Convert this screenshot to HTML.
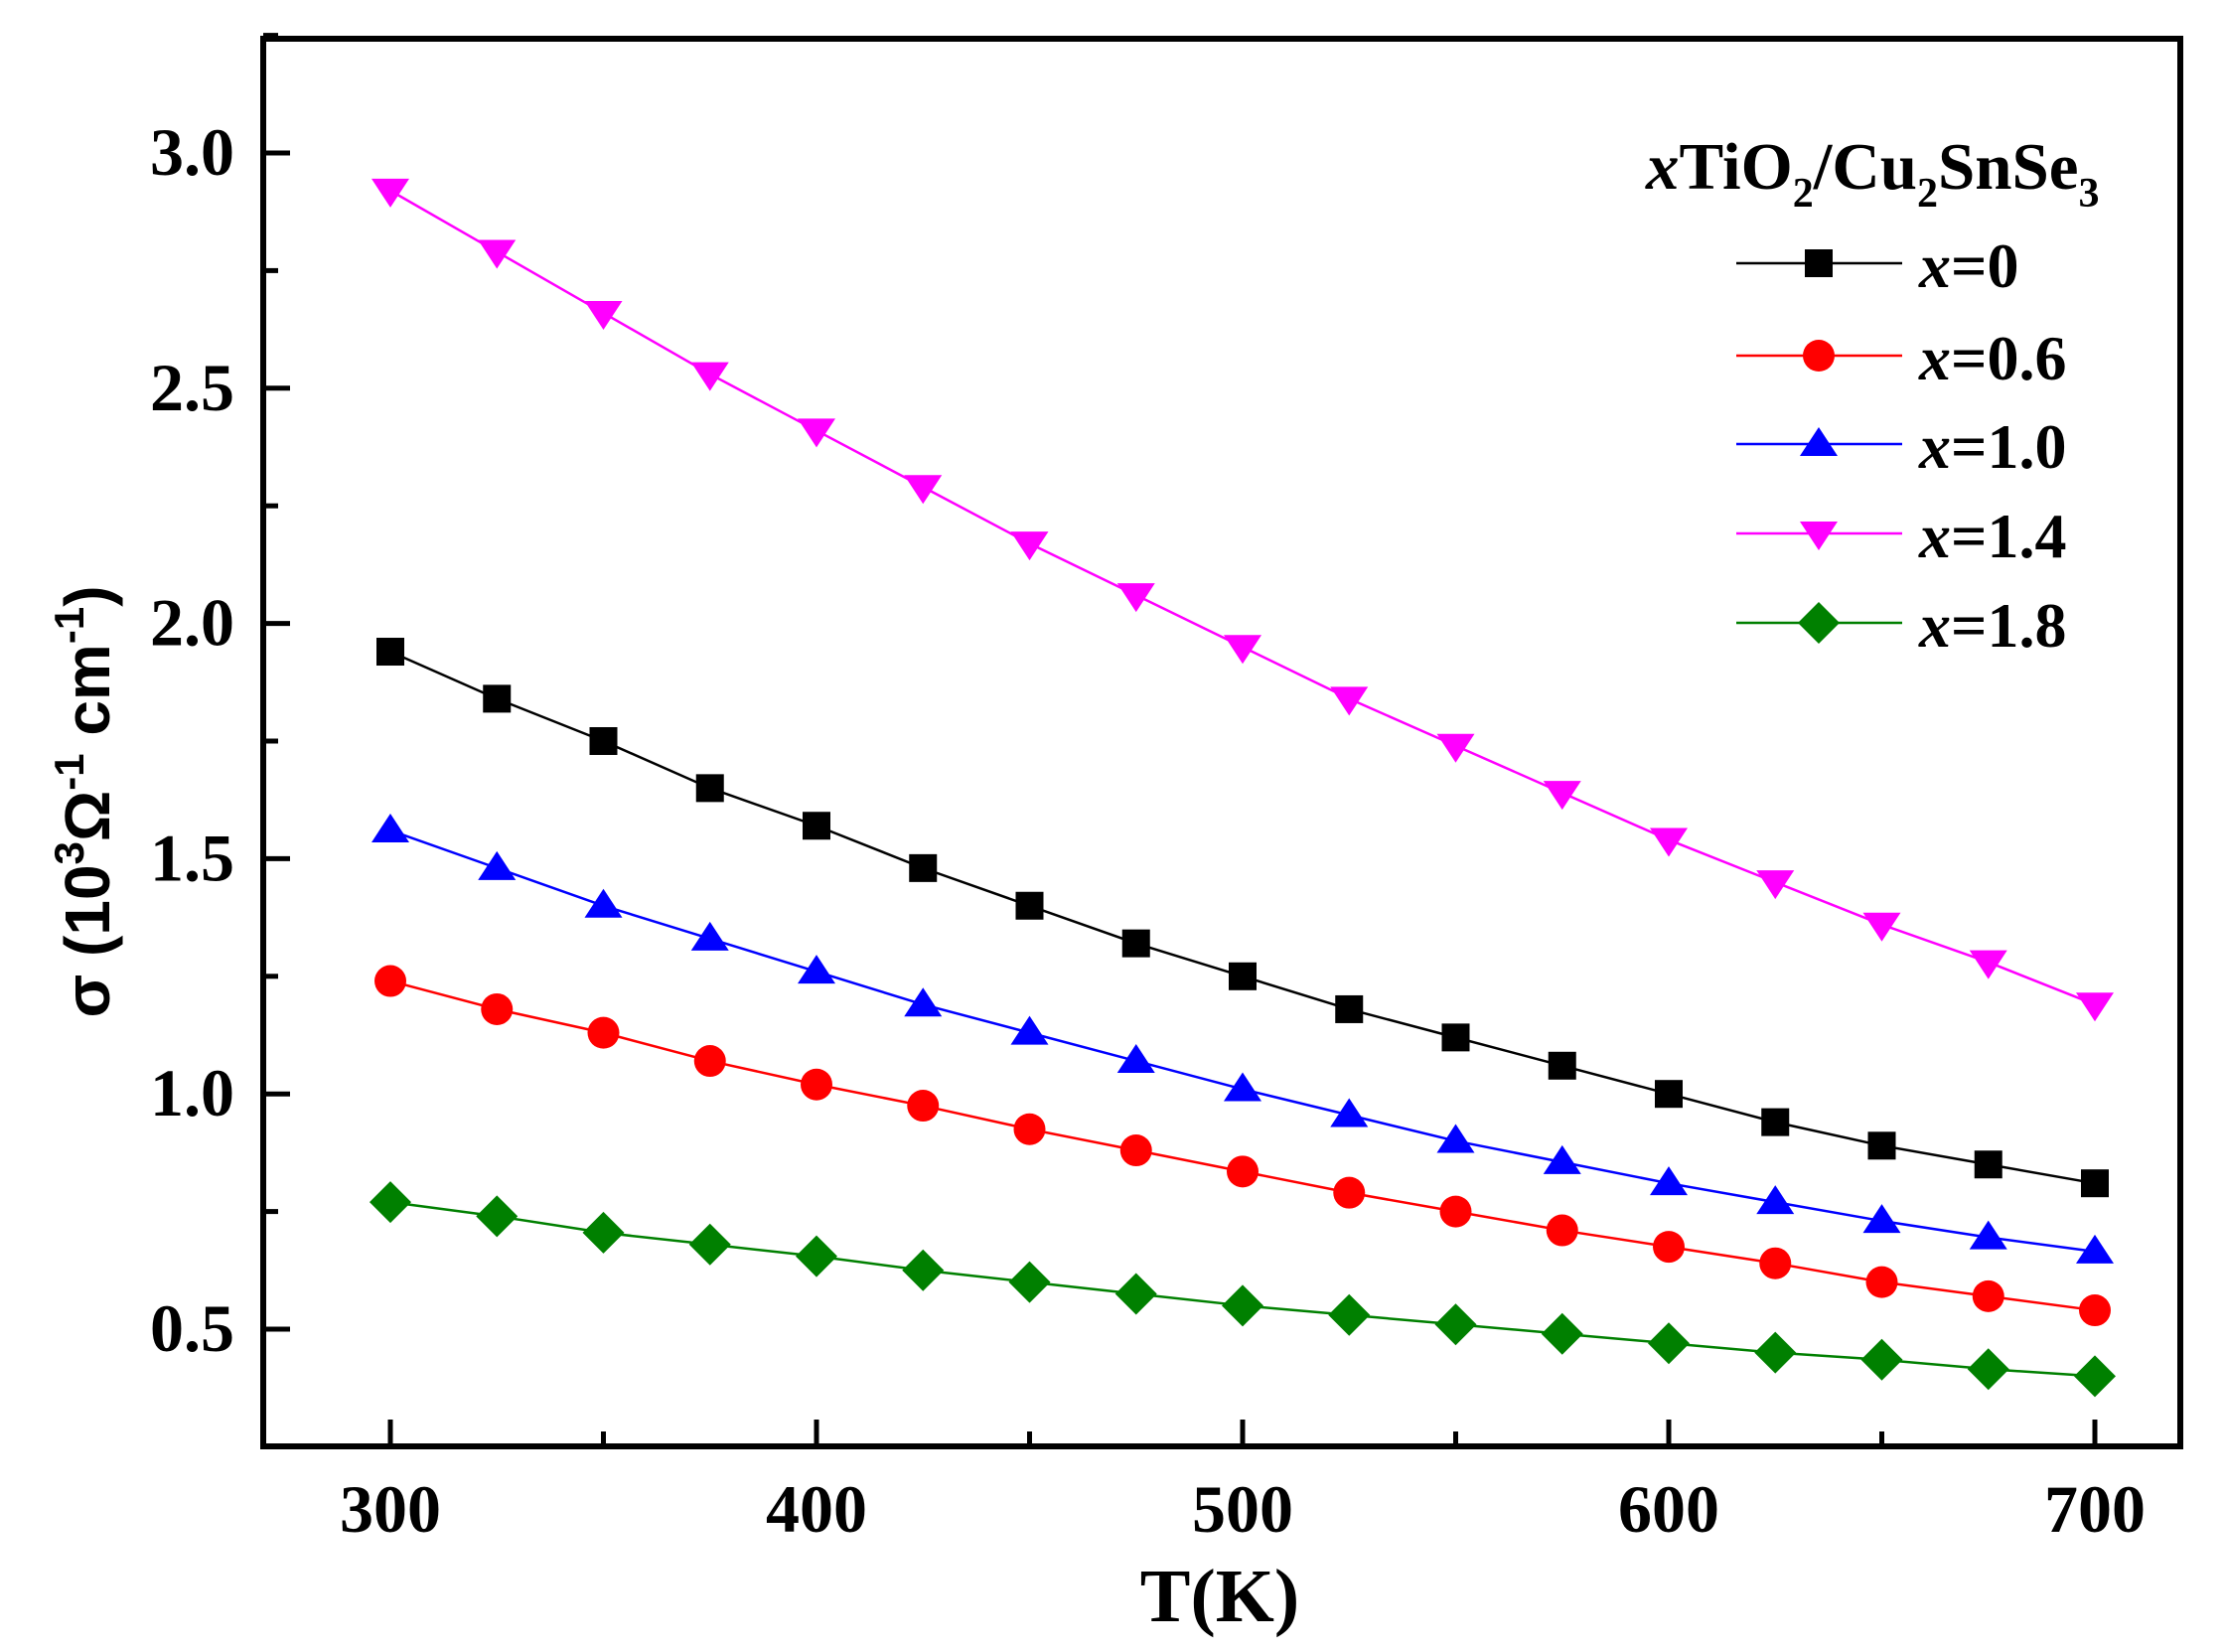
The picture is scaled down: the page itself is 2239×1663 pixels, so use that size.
<!DOCTYPE html>
<html><head><meta charset="utf-8"><style>
html,body{margin:0;padding:0;background:#fff;}
svg{display:block;}
text{font-family:"Liberation Serif",serif;font-weight:bold;}
</style></head><body>
<svg id="s" width="2239" height="1663" viewBox="0 0 2239 1663" xmlns="http://www.w3.org/2000/svg">
<rect width="2239" height="1663" fill="#fff"/>
<g id="plot"></g>
<rect x="265" y="39" width="1930" height="1417" fill="none" stroke="#000" stroke-width="6"/>
<g id="ticks" stroke="#000" stroke-width="5"></g>
<g font-size="68" text-anchor="middle" id="xl"></g>
<g font-size="68" text-anchor="end" id="yl"></g>
<text x="1228" y="1632" font-size="76" text-anchor="middle">T(K)</text>
<text transform="translate(110,807) rotate(-90)" font-size="64" text-anchor="middle" style="font-family:'Liberation Sans',sans-serif;font-weight:bold">σ (10<tspan dy="-26" font-size="42">3</tspan><tspan dy="26">Ω</tspan><tspan dy="-26" font-size="42">-1</tspan><tspan dy="26"> cm</tspan><tspan dy="-26" font-size="42">-1</tspan><tspan dy="26">)</tspan></text>
<text x="1657" y="190" font-size="67"><tspan font-style="italic">x</tspan>TiO<tspan font-size="42" dy="18">2</tspan><tspan dy="-18">/Cu</tspan><tspan font-size="42" dy="18">2</tspan><tspan dy="-18">SnSe</tspan><tspan font-size="42" dy="18">3</tspan></text>
<g id="leg"></g>
</svg>
<script>
const NS="http://www.w3.org/2000/svg";
function el(p,t,a,txt){const e=document.createElementNS(NS,t);for(const k in a)e.setAttribute(k,a[k]);if(txt!==undefined)e.textContent=txt;document.getElementById(p).appendChild(e);return e;}
const X=v=>393+(v-300)*4.29, Y=v=>1338-(v-0.5)*473.6;
for(let v=300;v<=700;v+=50){const maj=v%100==0;el('ticks','line',{x1:X(v),x2:X(v),y1:1456,y2:1456-(maj?27:15)});}
for(let v=0.5;v<=3.26;v+=0.25){const maj=Math.abs(v*2-Math.round(v*2))<1e-6;el('ticks','line',{x1:265,x2:265+(maj?27:15),y1:Y(v),y2:Y(v)});}
for(let v=300;v<=700;v+=100)el('xl','text',{x:X(v),y:1542},v);
for(const v of [0.5,1,1.5,2,2.5,3])el('yl','text',{x:236,y:Y(v)+22},v.toFixed(1));
const S=[
 ['#000','sq',[1.94,1.84,1.75,1.65,1.57,1.48,1.40,1.32,1.25,1.18,1.12,1.06,1.00,0.94,0.89,0.85,0.81]],
 ['#ff0000','ci',[1.24,1.18,1.13,1.07,1.02,0.975,0.925,0.88,0.835,0.79,0.75,0.71,0.675,0.64,0.60,0.57,0.54]],
 ['#0000ff','up',[1.56,1.48,1.40,1.33,1.26,1.19,1.13,1.07,1.01,0.955,0.90,0.855,0.81,0.77,0.73,0.695,0.665]],
 ['#ff00ff','dn',[2.92,2.79,2.66,2.53,2.41,2.29,2.17,2.06,1.95,1.84,1.74,1.64,1.54,1.45,1.36,1.28,1.19]],
 ['#008000','di',[0.77,0.74,0.705,0.68,0.655,0.625,0.60,0.575,0.55,0.53,0.51,0.49,0.47,0.45,0.435,0.415,0.40]]];
function mk(p,t,c,x,y){
 if(t=='sq')el(p,'rect',{x:x-14,y:y-14,width:28,height:28,fill:c});
 else if(t=='ci')el(p,'circle',{cx:x,cy:y,r:16,fill:c});
 else if(t=='up')el(p,'polygon',{points:`${x},${y-17} ${x-19},${y+12} ${x+19},${y+12}`,fill:c});
 else if(t=='dn')el(p,'polygon',{points:`${x},${y+17} ${x-19},${y-12} ${x+19},${y-12}`,fill:c});
 else el(p,'polygon',{points:`${x},${y-21} ${x+21},${y} ${x},${y+21} ${x-21},${y}`,fill:c});
}
const labs=['0','0.6','1.0','1.4','1.8'], ly=[265,358,447,537,627];
S.forEach((s,i)=>{
 const pts=s[2].map((v,j)=>X(300+25*j)+','+Y(v)).join(' ');
 el('plot','polyline',{points:pts,fill:'none',stroke:s[0],'stroke-width':2.5});
 s[2].forEach((v,j)=>mk('plot',s[1],s[0],X(300+25*j),Y(v)));
 el('leg','line',{x1:1748,x2:1915,y1:ly[i],y2:ly[i],stroke:s[0],'stroke-width':2.5});
 mk('leg',s[1],s[0],1831,ly[i]);
 const t=el('leg','text',{x:1932,y:ly[i]+24,'font-size':64});
 const a=document.createElementNS(NS,'tspan');a.setAttribute('font-style','italic');a.textContent='x';t.appendChild(a);
 t.appendChild(document.createTextNode('='+labs[i]));
});
</script>
</body></html>
